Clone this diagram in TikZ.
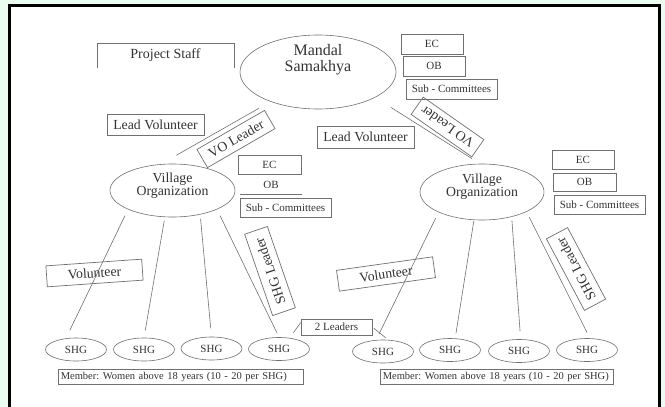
\documentclass[tikz,border=0pt]{standalone}
\usepackage{fontspec}
\setmainfont{Liberation Serif}
\usetikzlibrary{shapes.geometric, positioning, calc}
\definecolor{mint}{HTML}{EBFDF0}
\definecolor{inkgray}{HTML}{333333}
\definecolor{linegray}{HTML}{707070}
\tikzset{
    bigoval/.style={ellipse, draw=linegray, line width=0.6pt, minimum width=156pt, minimum height=74pt, inner sep=0pt},
    vooval/.style={ellipse, draw=linegray, line width=0.6pt, minimum width=125pt, minimum height=53pt, inner sep=0pt},
    shgoval/.style={ellipse, draw=linegray, line width=0.6pt, minimum width=61pt, minimum height=23pt, inner sep=0pt, font=\fontsize{11}{12}\selectfont, text=inkgray},
    bigtxt/.style={align=center, font=\fontsize{16}{16}\selectfont, text=inkgray},
    midtxt/.style={align=center, font=\fontsize{13.8}{13}\selectfont, text=inkgray},
    smallbox/.style={rectangle, draw=linegray, line width=0.7pt, minimum height=20pt, inner sep=0pt, font=\fontsize{11}{12}\selectfont, text=inkgray},
    rolebox/.style={rectangle, draw=linegray, line width=0.7pt, minimum height=21pt, inner sep=0pt, font=\fontsize{13.8}{14}\selectfont, text=inkgray},
    membox/.style={rectangle, draw=linegray, line width=0.6pt, minimum height=15pt, inner xsep=2.5pt, inner ysep=0pt, align=left, font=\fontsize{10.5}{12}\selectfont, text=inkgray},
    link/.style={draw=linegray, line width=0.6pt}
}

\begin{document}
\frenchspacing
\begin{tikzpicture}[x=1pt, y=-1pt]

    % Canvas and frame
    \useasboundingbox (0,0) rectangle (665,407);
    \fill[mint] (0,0) rectangle (665,407);
    \fill[white] (9.5,5) rectangle (659.5,407);
    \draw[line width=3pt] (9.5,420) -- (9.5,5) -- (659.5,5) -- (659.5,420);

    % Mandal level
    \node[bigoval] (mandal) at (318,72) {};
    \node[bigtxt] at ([yshift=12pt]mandal.center) {Mandal\\Samakhya};

    \node[font=\fontsize{14}{14}\selectfont, text=inkgray, minimum width=137pt, minimum height=25pt, inner sep=0pt] (staff) at (165.5,55.5) {Project Staff};
    \draw[link] (staff.south west) |- (staff.north east) -- (staff.south east);

    \node[smallbox, minimum width=62pt] (ecM) at (432,44) {EC};
    \node[smallbox, minimum width=62pt] (obM) at (434,66) {OB};
    \node[smallbox, minimum width=91pt] (subM) at (451.5,89) {Sub - Committees};

    \node[rolebox, minimum width=97pt] (leadL) at (155.5,124.5) {Lead Volunteer};
    \node[rolebox, minimum width=97pt, minimum height=22pt] (leadR) at (365.5,137) {Lead Volunteer};

    % Village organizations
    \node[vooval] (voL) at (172.5,190.5) {};
    \node[midtxt] at ([yshift=5pt]voL.center) {Village\\Organization};

    \node[vooval, minimum width=124pt, minimum height=56pt] (voR) at (482,192) {};
    \node[midtxt] at ([yshift=5pt]voR.center) {Village\\Organization};

    \node[smallbox, minimum width=63pt, minimum height=19pt] (ecL) at (269.5,164.5) {EC};
    \node[smallbox, draw=none, minimum width=62pt, minimum height=19pt] (obL) at (271,184.5) {OB};
    \draw[link] (obL.south west) -- (obL.south east);
    \node[smallbox, minimum width=91pt, minimum height=19pt] (subL) at (285.5,207.5) {Sub - Committees};

    \node[smallbox, minimum width=62pt, minimum height=19pt] (ecR) at (583,159.5) {EC};
    \node[smallbox, minimum width=63pt, minimum height=18pt] (obR) at (584.5,182) {OB};
    \node[smallbox, minimum width=91pt, minimum height=19pt] (subR) at (599.5,204.5) {Sub - Committees};

    % Tilted role labels
    \node[rolebox, minimum width=78pt, rotate=30] (voLeadL) at (236,139) {VO Leader};
    \node[rolebox, minimum width=74pt, rotate=145] (voLeadR) at (447.5,127) {VO Leader};
    \node[rolebox, minimum width=96pt, rotate=4] (volL) at (94.5,273) {Volunteer};
    \node[rolebox, minimum width=97pt, rotate=8] (volR) at (386,274) {Volunteer};
    \node[rolebox, minimum width=86pt, minimum height=24pt, rotate=109] (shgLeadL) at (270,271) {SHG Leader};
    \node[rolebox, minimum width=81pt, minimum height=24pt, rotate=118] (shgLeadR) at (576,269) {SHG Leader};

    % SHGs - Left
    \node[shgoval] (shgL1) at (76,349.5) {SHG};
    \node[shgoval] (shgL2) at (144,349.5) {SHG};
    \node[shgoval] (shgL3) at (211.5,348.5) {SHG};
    \node[shgoval] (shgL4) at (279,349) {SHG};

    % SHGs - Right
    \node[shgoval] (shgR1) at (383,351.5) {SHG};
    \node[shgoval] (shgR2) at (450,350) {SHG};
    \node[shgoval] (shgR3) at (519,351) {SHG};
    \node[shgoval] (shgR4) at (587,350) {SHG};

    \node[smallbox, minimum width=71pt, minimum height=16pt] (twoLead) at (336.5,327) {2 Leaders};

    \node[membox, text width=240pt, anchor=west] (memL) at (58,376.5) {Member: Women above 18 years (10 - 20 per SHG)};
    \node[membox, text width=228pt, anchor=west] (memR) at (380,376.5) {Member: Women above 18 years (10 - 20 per SHG)};

    % Links up to Mandal
    \draw[link, shorten <=18pt, shorten >=13.5pt] (voL.114) -- (mandal.212);
    \draw[link, shorten <=18.5pt, shorten >=9.5pt] (mandal.336) -- (voR.94);

    % Links SHG to VO - Left
    \draw[link, shorten <=9pt, shorten >=7pt] (shgL1.132) -- (voL.203);
    \draw[link, shorten <=7.5pt, shorten >=3.5pt] (shgL2.north) -- (voL.254);
    \draw[link, shorten <=8.5pt, shorten >=4pt] (shgL3.north) -- (voL.319);
    \draw[link, shorten <=4.5pt, shorten >=7pt] (shgL4.north) -- (voL.337);

    % Links SHG to VO - Right
    \draw[link, shorten <=6.5pt, shorten >=6.5pt] (shgR1.121) -- (voR.205);
    \draw[link, shorten <=5pt, shorten >=1pt] (shgR2.66) -- (voR.254);
    \draw[link, shorten <=8pt, shorten >=3.5pt] (shgR3.82) -- (voR.320);
    \draw[link, shorten <=6.5pt, shorten >=6pt] (shgR4.76) -- (voR.336);

    % 2 Leaders pointers
    \draw[link, shorten >=6.5pt] (twoLead.173) -- (shgL4.46);
    \draw[link, shorten <=2pt, shorten >=3pt] (twoLead.east) -- (shgR1.66);

\end{tikzpicture}
\end{document}
